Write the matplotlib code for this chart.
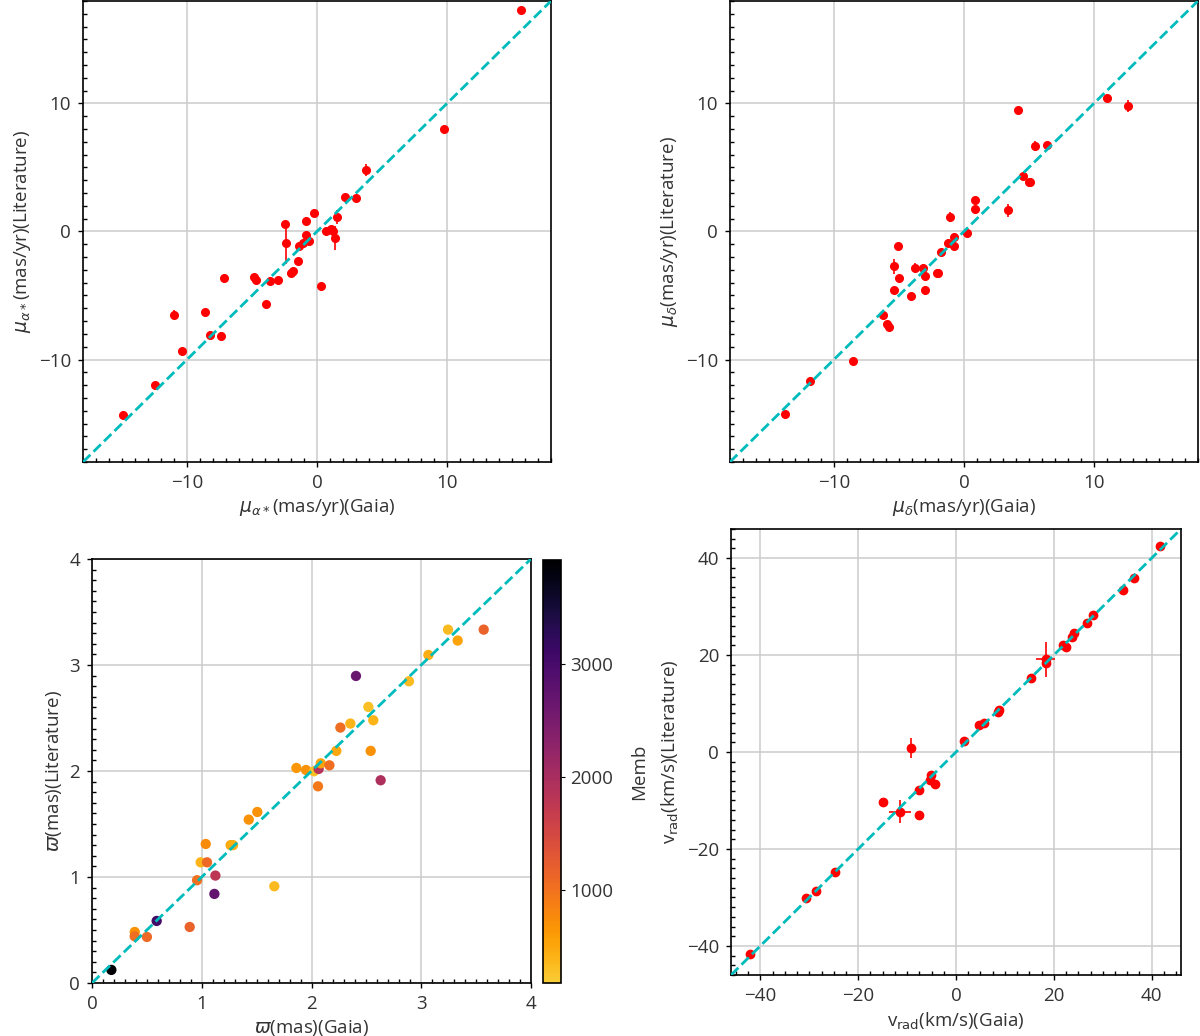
import matplotlib
matplotlib.use("Agg")
import matplotlib.pyplot as plt
from matplotlib.ticker import MultipleLocator
from matplotlib.colors import ListedColormap
import numpy as np

plt.rcParams['font.family'] = ['Open Sans', 'DejaVu Sans']
plt.rcParams['text.color'] = '#333333'
plt.rcParams['axes.labelcolor'] = '#333333'
plt.rcParams['xtick.labelcolor'] = '#333333'
plt.rcParams['ytick.labelcolor'] = '#333333'

# ---- Panel 1: mu_alpha* ----
pma_gaia = [15.7, 9.74, 3.76, 2.15, 2.97, 1.51, -0.23, -0.84, -2.48, -2.38, 0.69, 1.10, 1.23, 1.41,
            -0.84, -0.64, -1.07, -1.41, -1.46, -1.82, -2.00, 0.28, -3.02, -3.63, -4.86, -4.73,
            -3.91, -7.14, -8.64, -11.02, -8.24, -7.42, -10.41, -12.45, -14.94]
pma_lit = [17.3, 8.03, 4.80, 2.70, 2.60, 1.12, 1.45, 0.83, 0.62, -0.94, 0.00, 0.16, 0.05, -0.52,
           -0.31, -0.73, -0.91, -1.17, -2.31, -3.06, -3.25, -4.29, -3.79, -3.84, -3.56, -3.79,
           -5.64, -3.66, -6.29, -6.49, -8.05, -8.16, -9.30, -12.03, -14.31]
pma_err = [0.2, 0.2, 0.45, 0.2, 0.2, 0.55, 0.3, 0.3, 0.2, 1.6, 0.2, 0.2, 0.2, 0.95,
           0.3, 0.3, 0.2, 0.2, 0.2, 0.2, 0.2, 0.3, 0.2, 0.3, 0.2, 0.2,
           0.2, 0.2, 0.2, 0.35, 0.3, 0.3, 0.2, 0.2, 0.3]

# ---- Panel 2: mu_delta ----
pmd_gaia = [11.03, 12.59, 4.16, 5.49, 6.41, 4.57, 4.98, 5.10, 3.42, 0.87, 0.87, 0.26, -0.77, -0.77,
            -1.20, -1.07, -1.79, -2.09, -1.97, -3.01, -3.14, -3.75, -3.01, -4.06, -5.08, -5.39,
            -4.98, -5.39, -6.21, -5.90, -5.80, -8.56, -11.88, -13.77]
pmd_lit = [10.42, 9.79, 9.48, 6.68, 6.78, 4.36, 3.84, 3.84, 1.66, 2.49, 1.74, -0.13, -0.44, -1.17,
           -0.88, 1.12, -1.58, -3.27, -3.27, -3.45, -2.83, -2.83, -4.60, -5.04, -1.17, -2.73,
           -3.66, -4.60, -6.49, -7.19, -7.45, -10.13, -11.69, -14.23]
pmd_err = [0.2, 0.5, 0.2, 0.4, 0.2, 0.2, 0.2, 0.2, 0.5, 0.2, 0.2, 0.2, 0.3, 0.2,
           0.2, 0.4, 0.2, 0.2, 0.2, 0.2, 0.2, 0.35, 0.35, 0.2, 0.2, 0.6,
           0.2, 0.2, 0.2, 0.2, 0.2, 0.2, 0.2, 0.2]

# ---- Panel 3: parallax, coloured by Memb ----
plx_gaia = [0.176, 0.389, 0.389, 0.500, 0.589, 0.890, 0.957, 0.990, 1.048, 1.036, 1.124, 1.115,
            1.263, 1.285, 1.428, 1.506, 1.661, 1.862, 1.950, 2.023, 2.065, 2.084, 2.163, 2.059,
            2.226, 2.263, 2.354, 2.405, 2.518, 2.563, 2.539, 2.630, 2.888, 3.065, 3.244, 3.332, 3.569]
plx_lit = [0.123, 0.481, 0.440, 0.434, 0.585, 0.528, 0.969, 1.138, 1.138, 1.311, 1.013, 0.840,
           1.300, 1.300, 1.541, 1.613, 0.912, 2.028, 2.009, 1.997, 2.019, 2.072, 2.053, 1.855,
           2.189, 2.409, 2.447, 2.896, 2.604, 2.478, 2.189, 1.912, 2.846, 3.094, 3.333, 3.230, 3.333]
memb = [3900, 700, 1050, 1100, 3050, 1150, 1000, 400, 1100, 750, 1800, 2750,
        500, 450, 700, 700, 350, 650, 700, 300, 1850, 550, 1050, 950,
        500, 1050, 400, 2650, 300, 400, 700, 1950, 350, 450, 350, 550, 1150]

# ---- Panel 4: radial velocity ----
rv_gaia = [41.8, 36.3, 34.1, 28.0, 26.7, 24.2, 23.7, 21.8, 22.4, 18.3, 18.3, 15.4, 8.8, 8.6,
           5.8, 4.7, 1.6, -9.3, -5.1, -5.3, -4.2, -7.6, -7.5, -14.9, -11.5, -24.8, -28.7, -30.6, -42.1]
rv_lit = [42.4, 35.9, 33.5, 28.2, 26.6, 24.5, 23.8, 22.1, 21.7, 19.1, 18.4, 15.3, 8.7, 8.2,
          6.0, 5.5, 2.3, 0.8, -4.7, -5.8, -6.7, -7.8, -12.9, -10.4, -12.3, -24.7, -28.7, -30.2, -41.6]
rv_xerr = [0.3, 0.3, 0.3, 0.3, 0.3, 0.3, 0.3, 0.3, 0.3, 2.0, 0.3, 0.3, 0.3, 0.3,
           0.3, 0.3, 0.3, 0.3, 0.3, 0.3, 0.3, 0.3, 0.3, 0.3, 2.25, 0.3, 0.3, 0.3, 0.3]
rv_yerr = [0.4, 0.4, 0.4, 0.4, 0.4, 0.5, 0.6, 0.4, 0.4, 3.6, 0.4, 0.4, 0.4, 0.4,
           0.4, 0.4, 0.4, 2.0, 0.5, 0.4, 0.4, 0.4, 0.4, 0.4, 2.3, 0.4, 0.4, 0.4, 0.4]

# reversed inferno, truncated before the pale-yellow end
cmap = ListedColormap(plt.get_cmap('inferno')(np.linspace(0.88, 0.0, 256)))

fig = plt.figure(figsize=(12, 10.36), dpi=100)

ax1 = fig.add_axes([0.0692, 0.5541, 0.39, 0.445])
ax2 = fig.add_axes([0.6083, 0.5541, 0.39, 0.445])
ax3 = fig.add_axes([0.0767, 0.0512, 0.3658, 0.4093])
cax = fig.add_axes([0.4525, 0.0512, 0.015, 0.4083])
ax4 = fig.add_axes([0.6092, 0.0589, 0.375, 0.4305])

line_kw = dict(color='#00bbbb', ls='--', lw=2, zorder=5)


def style(ax, lim, major, minor_x, minor_y):
    ax.set_xlim(lim)
    ax.set_ylim(lim)
    ax.xaxis.set_major_locator(MultipleLocator(major))
    ax.yaxis.set_major_locator(MultipleLocator(major))
    ax.xaxis.set_minor_locator(MultipleLocator(minor_x))
    ax.yaxis.set_minor_locator(MultipleLocator(minor_y))
    ax.grid(True, which='major', color='#cccccc', lw=1.1, zorder=0)
    ax.set_axisbelow(True)
    ax.tick_params(which='major', direction='out', length=3.5, width=1, labelsize=13.5, pad=5)
    ax.tick_params(which='minor', direction='in', length=3, width=1)
    for s in ax.spines.values():
        s.set_color('black')
        s.set_linewidth(1.2)
    ax.plot(lim, lim, **line_kw)


# Panel 1
ax1.errorbar(pma_gaia, pma_lit, yerr=pma_err, fmt='o', color='red', ms=5.5,
             elinewidth=1.2, capsize=0, zorder=3)
style(ax1, (-18, 18), 10, 1, 1)
ax1.set_xlabel(r'$\mu_{\alpha*}$(mas/yr)(Gaia)', fontsize=13.5)
ax1.set_ylabel(r'$\mu_{\alpha*}$(mas/yr)(Literature)', fontsize=13.5)

# Panel 2
ax2.errorbar(pmd_gaia, pmd_lit, yerr=pmd_err, fmt='o', color='red', ms=5.5,
             elinewidth=1.2, capsize=0, zorder=3)
style(ax2, (-18, 18), 10, 1, 1)
ax2.set_xlabel(r'$\mu_{\delta}$(mas/yr)(Gaia)', fontsize=13.5)
ax2.set_ylabel(r'$\mu_{\delta}$(mas/yr)(Literature)', fontsize=13.5)

# Panel 3
sc = ax3.scatter(plx_gaia, plx_lit, c=memb, cmap=cmap, vmin=180, vmax=3920,
                 s=55, zorder=3, edgecolors='none')
style(ax3, (0, 4), 1, 0.1, 0.1)
ax3.set_xlabel(r'$\varpi$(mas)(Gaia)', fontsize=13.5)
ax3.set_ylabel(r'$\varpi$(mas)(Literature)', fontsize=13.5)
cb = fig.colorbar(sc, cax=cax)
cb.set_ticks([1000, 2000, 3000])
cb.ax.tick_params(labelsize=13.5, length=3, direction='out')
cb.set_label('Memb', fontsize=13.5, labelpad=12)
cb.outline.set_linewidth(1.2)

# Panel 4
ax4.errorbar(rv_gaia, rv_lit, xerr=rv_xerr, yerr=rv_yerr, fmt='o', color='red', ms=6,
             elinewidth=1.2, capsize=0, zorder=3)
style(ax4, (-46, 46), 20, 2.5, 2)
ax4.set_xlabel(r'v$_{\mathrm{rad}}$(km/s)(Gaia)', fontsize=13.5)
ax4.set_ylabel(r'v$_{\mathrm{rad}}$(km/s)(Literature)', fontsize=13.5)

fig.savefig('out.png', dpi=100)
